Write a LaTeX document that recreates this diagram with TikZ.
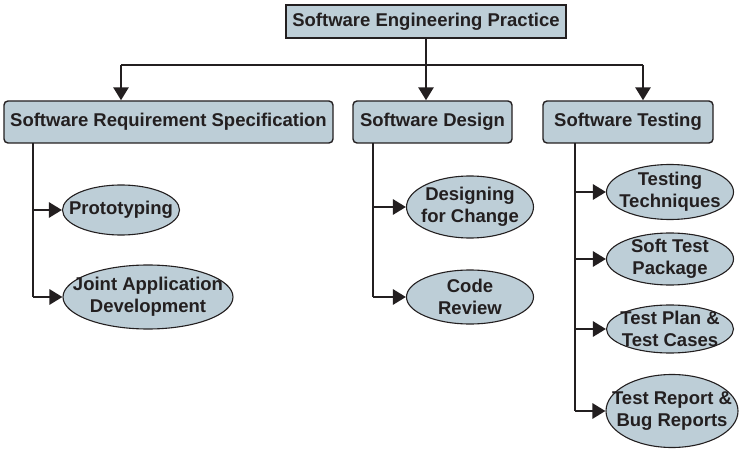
\documentclass[tikz,border=0pt]{standalone}
\usepackage{fontspec}
\setmainfont{Liberation Sans}
\usetikzlibrary{shapes.geometric,arrows.meta}
\definecolor{boxfill}{RGB}{189,206,215}
\definecolor{ink}{RGB}{35,31,32}
\begin{document}
\begin{tikzpicture}[x=1pt,y=-1pt,
  lbl/.style={font=\fontsize{18.5}{22}\selectfont\bfseries, text=ink, align=center, inner sep=0pt},
  topbox/.style={lbl, draw=ink, line width=1.4pt, fill=boxfill, rectangle, minimum height=33pt},
  areabox/.style={lbl, draw=ink, line width=1.4pt, fill=boxfill, rectangle, rounded corners=4pt, minimum height=42pt},
  leaf/.style={draw=ink, line width=1.1pt, fill=boxfill, ellipse, inner sep=0pt},
  leaftext/.style={label={[lbl]center:{#1}}},
  spine/.style={draw=ink, line width=2pt},
  bar/.style={draw=ink, line width=1.5pt},
  feed/.style={draw=ink, line width=2.8pt, -{Triangle[length=13pt,width=15pt]}},
]
\useasboundingbox (0,0) rectangle (739,449);

% root and the three practice areas
\node[topbox, minimum width=280pt] (root) at (426,21.5) {Software Engineering Practice};
\node[areabox, minimum width=329pt] (srs) at (168.5,122) {Software Requirement Specification};
\node[areabox, minimum width=159pt] (des) at (432.5,122) {Software Design};
\node[areabox, minimum width=170pt] (tst) at (628,122) {Software Testing};

% leaves of each area (fixed-size ellipses, text centred on them)
\node[leaf, minimum width=117pt, minimum height=50pt, leaftext={Prototyping}] (proto) at (121,210) {};
\node[leaf, minimum width=170pt, minimum height=64pt, leaftext={Joint Application\\Development}] (jad) at (148,297) {};
\node[leaf, minimum width=127pt, minimum height=62pt, leaftext={Designing\\for Change}] (dfc) at (470,207) {};
\node[leaf, minimum width=127pt, minimum height=54pt, leaftext={Code\\Review}] (crv) at (470,297) {};
\node[leaf, minimum width=127pt, minimum height=55pt, leaftext={Testing\\Techniques}] (ttq) at (670,192) {};
\node[leaf, minimum width=127pt, minimum height=52pt, leaftext={Soft Test\\Package}] (stp) at (670,259) {};
\node[leaf, minimum width=127pt, minimum height=48pt, leaftext={Test Plan \&\\Test Cases}] (tpc) at (670,329) {};
\node[leaf, minimum width=132pt, minimum height=73pt, leaftext={Test Report \&\\Bug Reports}] (trb) at (672,411) {};

% distribution from the root
\coordinate (hl) at (121,65);
\coordinate (hr) at (643,65);
\draw[bar] (hl) -- (hr);
\draw[feed] (root.south) -- (root.south |- des.north);
\draw[feed] (hl) -- (hl |- srs.north);
\draw[feed] (hr) -- (hr |- tst.north);

% requirement specification branch
\coordinate (sa) at (33,143);
\draw[spine] (sa) -- (sa |- jad.west);
\draw[feed] (sa |- proto.west) -- (proto.west);
\draw[feed] (sa |- jad.west) -- (jad.west);

% design branch
\coordinate (da) at (373,143);
\draw[spine] (da) -- (da |- crv.west);
\draw[feed] (da |- dfc.west) -- (dfc.west);
\draw[feed] (da |- crv.west) -- (crv.west);

% testing branch
\coordinate (ta) at (575,143);
\draw[spine] (ta) -- (ta |- trb.west);
\draw[feed] (ta |- ttq.west) -- (ttq.west);
\draw[feed] (ta |- stp.west) -- (stp.west);
\draw[feed] (ta |- tpc.west) -- (tpc.west);
\draw[feed] (ta |- trb.west) -- (trb.west);
\end{tikzpicture}
\end{document}
